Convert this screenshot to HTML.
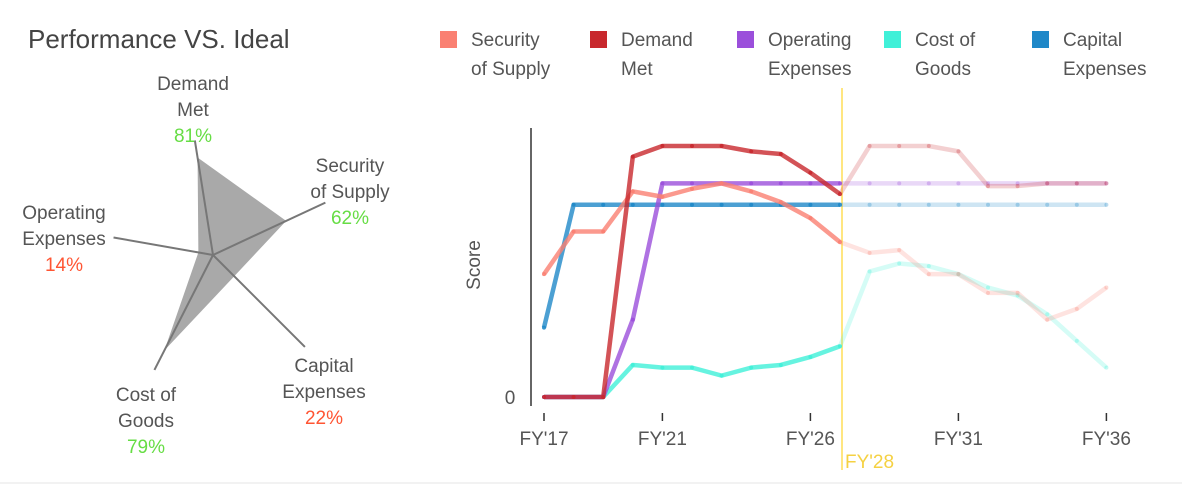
<!DOCTYPE html>
<html><head><meta charset="utf-8"><style>
body{margin:0;background:#fff;font-family:"Liberation Sans",sans-serif;}
svg text{font-family:"Liberation Sans",sans-serif;}
</style></head><body>
<svg width="1182" height="486" viewBox="0 0 1182 486">
<text x="28" y="48" font-size="26" fill="#444">Performance VS. Ideal</text>
<g id="radar"></g>
<g id="legend"></g>
<g id="lines"></g>
<line x1="0" y1="483" x2="1182" y2="483" stroke="#e4e4e4"/>
</svg>
<script>
const radarLabels=[["Demand","Met"],["Security","of Supply"],["Capital","Expenses"],["Cost of","Goods"],["Operating","Expenses"]];
const radarValues=[81,62,22,79,14];
const radarPctText=["81%","62%","22%","79%","14%"];
const categories=["FY'17","FY'18","FY'19","FY'20","FY'21","FY'22","FY'23","FY'24","FY'25","FY'26","FY'27","FY'28","FY'29","FY'30","FY'31","FY'32","FY'33","FY'34","FY'35","FY'36"];
const seriesNames=[["Security","of Supply"],["Demand","Met"],["Operating","Expenses"],["Cost of","Goods"],["Capital","Expenses"]];
const securitySupply=[46,62,62,77,75,78,80,77,73,67,58,54,55,46,46,39,39,29,33,41];
const demandMet=[0,0,0,90,94,94,94,92,91,84,76,94,94,94,92,79,79,80,80,80];
const operatingExp=[0,0,0,29,80,80,80,80,80,80,80,80,80,80,80,80,80,80,80,80];
const costGoods=[0,0,0,12,11,11,8,11,12,15,19,47,50,49,46,41,38,31,21,11];
const capitalExp=[26,72,72,72,72,72,72,72,72,72,72,72,72,72,72,72,72,72,72,72];
const tickLabels=["FY'17","FY'21","FY'26","FY'31","FY'36"];
const tickIdx=[0,4,9,14,19];
const forecastIdx=10;
const forecastLabel="FY'28";
const NS="http://www.w3.org/2000/svg";
function mk(tag,attrs,parent){const e=document.createElementNS(NS,tag);for(const k in attrs)e.setAttribute(k,attrs[k]);parent.appendChild(e);return e;}
// radar
const R=document.getElementById('radar');
const cx=213,cy=255;
const angles=[99,25,-45,-117,170];
const lens=[116,124,130,129,101];
const labelPos=[[193,90],[350,172],[324,372],[146,401],[64,219]];
let pts=radarValues.map((v,i)=>{const a=angles[i]*Math.PI/180;const r=lens[i]*v/100*1.05;return [cx+r*Math.cos(a),cy-r*Math.sin(a)];});
const poly=mk('polygon',{points:pts.map(p=>p.join(',')).join(' '),fill:'#a9a9a9'},R);


radarLabels.forEach((lab,i)=>{
 const a=angles[i]*Math.PI/180;
 const ax=mk('line',{x1:cx,y1:cy,x2:cx+lens[i]*Math.cos(a),y2:cy-lens[i]*Math.sin(a),stroke:'#777','stroke-width':2},R);
 
 
 const [lx,ly]=labelPos[i];
 const t=mk('text',{x:lx,y:ly,'font-size':19,fill:'#555','text-anchor':'middle'},R);
 
 
 t.innerHTML=`<tspan x="${lx}">${lab[0]}</tspan><tspan x="${lx}" dy="26">${lab[1]}</tspan>`;
 const p=mk('text',{x:lx,y:ly+52,'font-size':19,fill:radarValues[i]>=50?'#66dd44':'#ff5533','text-anchor':'middle'},R);
 
 
 p.textContent=radarPctText[i];
});
// legend
const L=document.getElementById('legend');
const colors=['#fa8072','#c8282d','#9b4fdb','#40f0d8','#1f88c8'];
const legX=[440,590,737,884,1032];
seriesNames.forEach((n,i)=>{
 const r=mk('rect',{x:legX[i],y:31,width:17,height:17,fill:colors[i]},L);
 
 
 const t=mk('text',{x:legX[i]+31,y:46,'font-size':19,fill:'#555'},L);
 
 
 t.innerHTML=`<tspan x="${legX[i]+31}">${n[0]}</tspan><tspan x="${legX[i]+31}" dy="29">${n[1]}</tspan>`;
});
// lines
const G=document.getElementById('lines');
const x0=544,dx=29.6,y0=397,y100=130;
const X=i=>x0+i*dx, Y=v=>y0-(y0-y100)*v/100;
const ax=mk('line',{x1:531,y1:128,x2:531,y2:406,stroke:'#333','stroke-width':1.5},G);


const yl=mk('text',{x:480,y:265,'font-size':19,fill:'#555','text-anchor':'middle',transform:'rotate(-90 480 265)'},G);


yl.textContent='Score';
const z=mk('text',{x:510,y:Y(0)+7,'font-size':19,fill:'#555','text-anchor':'middle'},G);


z.textContent='0';
tickIdx.forEach((ti,k)=>{
 const tl=mk('line',{x1:X(ti),y1:413,x2:X(ti),y2:421,stroke:'#333','stroke-width':1.5},G);
 
 
 const t=mk('text',{x:X(ti),y:445,'font-size':19,fill:'#555','text-anchor':'middle'},G);
 
 
 t.textContent=tickLabels[k];
});
const fl=mk('line',{x1:X(forecastIdx)+2,y1:88,x2:X(forecastIdx)+2,y2:470,stroke:'#ffe680','stroke-width':2},G);


const ft=mk('text',{x:X(forecastIdx)+5,y:468,'font-size':19,fill:'#f5d142'},G);


ft.textContent=forecastLabel;
const series=[costGoods,capitalExp,operatingExp,securitySupply,demandMet];
const sColors=[colors[3],colors[4],colors[2],colors[0],colors[1]];
const sNames=['cost-of-goods','capital-expenses','operating-expenses','security-of-supply','demand-met'];
series.forEach((s,k)=>{
 const a=s.slice(0,forecastIdx+1).map((v,i)=>X(i)+','+Y(v)).join(' ');
 const b=s.slice(forecastIdx).map((v,i)=>X(i+forecastIdx)+','+Y(v)).join(' ');
 const p1=mk('polyline',{points:a,fill:'none',stroke:sColors[k],'stroke-width':4.5,'stroke-opacity':0.8,'stroke-linejoin':'round'},G);
 
 
 const p2=mk('polyline',{points:b,fill:'none',stroke:sColors[k],'stroke-width':4.5,'stroke-opacity':0.22,'stroke-linejoin':'round'},G);
 
 
 s.forEach((v,i)=>{
  const d=mk('circle',{cx:X(i),cy:Y(v),r:2,fill:sColors[k],'fill-opacity':i<=forecastIdx?0.9:0.3},G);
  
  
 });
});
</script>
</body></html>
